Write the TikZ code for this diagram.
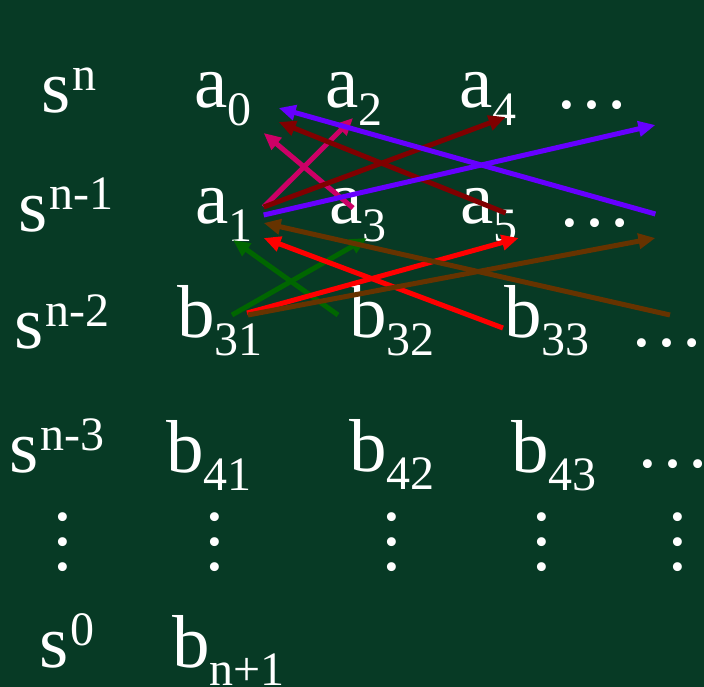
\documentclass[tikz,border=0pt]{standalone}
\usepackage{fontspec}
\setmainfont{Liberation Serif}
\usetikzlibrary{arrows.meta}
\definecolor{board}{HTML}{073A25}
\definecolor{linkviolet}{HTML}{6600FF}
\definecolor{linkmaroon}{HTML}{800000}
\definecolor{linkpink}{HTML}{CC0066}
\definecolor{linkgreen}{HTML}{006600}
\definecolor{linkred}{HTML}{FF0000}
\definecolor{linkbrown}{HTML}{663300}
\newcommand{\lowidx}[1]{\raisebox{-18pt}{\fontsize{48}{48}\selectfont #1}}
\newcommand{\highidx}[1]{\kern2pt\raisebox{22pt}{\fontsize{48}{48}\selectfont #1}}
\newcommand{\vdotstack}{\vbox{\baselineskip=25pt\hbox{.}\hbox{.}\hbox{.}}}
\tikzset{
  term/.style={text=white, inner sep=0pt, anchor=base west,
               font=\fontsize{75}{80}\selectfont},
  vdot/.style={term, anchor=center},
  link/.style={line width=5pt, -{Triangle[length=17pt, width=15pt]}},
}

\begin{document}
\begin{tikzpicture}[x=1pt, y=-1pt]
    \fill[board] (0,0) rectangle (704,687);
    \useasboundingbox (0,0) rectangle (704,687);
    % levels
    \node[term] (sn) at (41,113) {s\highidx{n}};
    \node[term] (sn1) at (18,232) {s\highidx{n-1}};
    \node[term] (sn2) at (14,348) {s\highidx{n-2}};
    \node[term] (sn3) at (9,472) {s\highidx{n-3}};
    \node[term] (s0) at (39,667) {s\highidx{0}};
    % terms
    \node[term] (a0) at (194,108) {a\lowidx{0}};
    \node[term] (a2) at (325,108) {a\lowidx{2}};
    \node[term] (a4) at (459,108) {a\lowidx{4}};
    \node[term] (dots1) at (554.5,109) {…};
    \node[term] (a1) at (195,223) {a\lowidx{1}};
    \node[term] (a3) at (329,223) {a\lowidx{3}};
    \node[term] (a5) at (460,223) {a\lowidx{5}};
    \node[term] (dots2) at (557.5,226) {…};
    \node[term] (b31) at (177,337) {b\lowidx{31}};
    \node[term] (b32) at (349,337) {b\lowidx{32}};
    \node[term] (b33) at (504,337) {b\lowidx{33}};
    \node[term] (dots3) at (629.5,346) {…};
    \node[term] (b41) at (166,472) {b\lowidx{41}};
    \node[term] (b42) at (349,471) {b\lowidx{42}};
    \node[term] (b43) at (511,472) {b\lowidx{43}};
    \node[term] (dots4) at (635.5,467) {…};
    \node[vdot] (vd0) at (63,542) {\vdotstack};
    \node[vdot] (vd1) at (215,542) {\vdotstack};
    \node[vdot] (vd2) at (392,542) {\vdotstack};
    \node[vdot] (vd3) at (542,542) {\vdotstack};
    \node[vdot] (vd4) at (678,542) {\vdotstack};
    \node[term] (bn1) at (172,667) {b\lowidx{n+1}};
    % links
    \draw[link, linkpink] ([shift={(11,-16)}]a1.base east) -- ([shift={(28,10)}]a2.base west);
    \draw[link, linkpink] ([shift={(24,-15)}]a3.base west) -- ([shift={(12,25)}]a0.base east);
    \draw[link, linkmaroon] ([shift={(11,-16)}]a1.base east) -- ([shift={(-11,9)}]a4.base east);
    \draw[link, linkmaroon] ([shift={(-12,-10)}]a5.base east) -- ([shift={(27,14)}]a0.base east);
    \draw[link, linkviolet] ([shift={(22.5,-12)}]dots2.base east) -- ([shift={(27,0)}]a0.base east);
    \draw[link, linkviolet] ([shift={(11,-8)}]a1.base east) -- ([shift={(25.5,16)}]dots1.base east);
    \draw[link, linkgreen] ([shift={(55,-22)}]b31.base west) -- ([shift={(38,15)}]a3.base west);
    \draw[link, linkgreen] ([shift={(-11,-22)}]b32.base west) -- ([shift={(38,17)}]a1.base west);
    \draw[link, linkred] ([shift={(70,-24)}]b31.base west) -- ([shift={(1,15)}]a5.base east);
    \draw[link, linkred] ([shift={(-1,-9)}]b33.base west) -- ([shift={(11,15)}]a1.base east);
    \draw[link, linkbrown] ([shift={(71,-22)}]b31.base west) -- ([shift={(22.5,12)}]dots2.base east);
    \draw[link, linkbrown] ([shift={(40.5,-31)}]dots3.base west) -- ([shift={(11,0)}]a1.base east);
\end{tikzpicture}
\end{document}
